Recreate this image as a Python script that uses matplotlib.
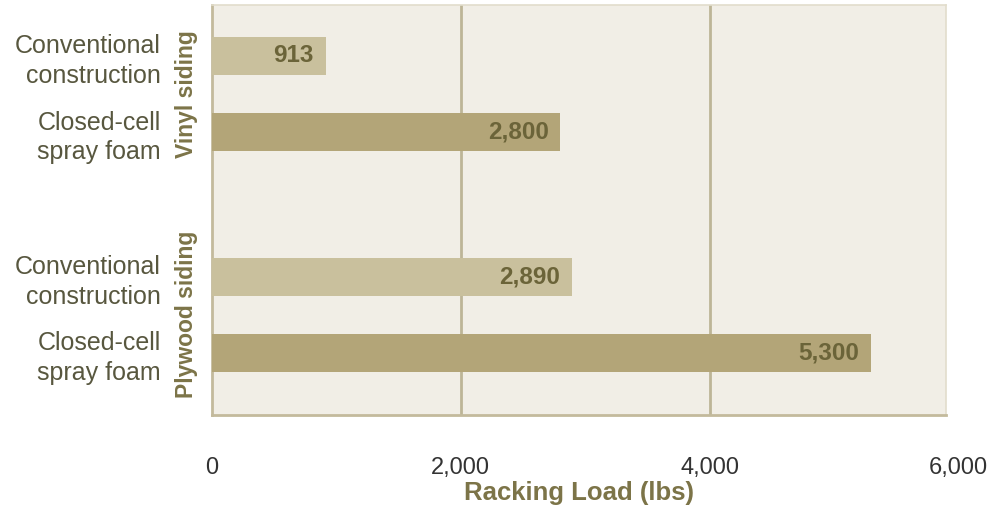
import matplotlib
matplotlib.use("Agg")
import matplotlib.pyplot as plt

categories = ["Conventional\nconstruction", "Closed-cell\nspray foam",
              "Conventional\nconstruction", "Closed-cell\nspray foam"]
groups = ["Vinyl siding", "Plywood siding"]
values = [913, 2800, 2890, 5300]
value_labels = ["913", "2,800", "2,890", "5,300"]
xticks = [0, 2000, 4000, 6000]
xtick_labels = ["0", "2,000", "4,000", "6,000"]

plt.rcParams['font.family'] = ['Liberation Sans', 'DejaVu Sans']

light = "#c9c09d"
dark = "#b3a578"
bar_colors = [light, dark, light, dark]
ypos = [0, 1, 2.9, 3.9]

fig = plt.figure(figsize=(9.94, 5.14), dpi=100)
ax = fig.add_axes([212/994, 1-415/514, (946-212)/994, (415-5)/514])
ax.set_facecolor("#f1eee6")

ax.barh(ypos, values, height=0.5, color=bar_colors, zorder=3)
ax.set_xlim(0, 5900)
ax.set_ylim(4.72, -0.67)

for x in [2000, 4000]:
    ax.axvline(x, color="#bdb597", lw=2, zorder=1)

for y, v, lab in zip(ypos, values, value_labels):
    ax.text(v - 95, y, lab, ha="right", va="center", fontsize=17.5,
            fontweight="bold", color="#6b6439", zorder=4)

ax.set_yticks(ypos)
ax.set_yticklabels(categories, fontsize=18, color="#58573f", linespacing=1.3)
ax.tick_params(axis="y", length=0, pad=37)

ax.set_xticks(xticks[:3])
ax.set_xticklabels([])
ax.tick_params(axis="x", length=0)
trans = ax.get_xaxis_transform()
for t, lab in zip(xticks, xtick_labels):
    ax.text(t, -0.13, lab, transform=trans, ha="center", va="center",
            fontsize=17, color="#333333", clip_on=False)

ax.text(2950, -0.19, "Racking Load (lbs)", transform=trans, ha="center",
        va="center", fontsize=18.5, fontweight="bold", color="#7c7448",
        clip_on=False)

group_centers = [(ypos[0] + ypos[1]) / 2, (ypos[2] + ypos[3]) / 2]
for g, yc in zip(groups, group_centers):
    ax.text(-25 / (946-212) * 5900, yc, g, rotation=90, ha="center",
            va="center", fontsize=16.5, fontweight="bold", color="#7c7448",
            clip_on=False)

for side in ["left", "bottom"]:
    ax.spines[side].set_color("#c3ba9c")
    ax.spines[side].set_linewidth(2)
for side in ["right", "top"]:
    ax.spines[side].set_color("#e2ddcc")
    ax.spines[side].set_linewidth(1.2)

fig.savefig("out.png", dpi=100, facecolor="white")
